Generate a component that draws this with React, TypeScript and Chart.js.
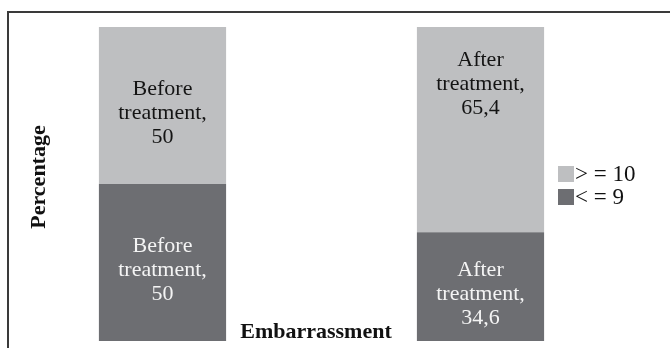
import React, { useEffect, useRef } from "react";
import { Chart, registerables } from "chart.js";

Chart.register(...registerables);

// Data
const categories = ["Before treatment", "After treatment"];
const seriesNames = ["< = 9", "> = 10"];
const lowScores = [50, 34.6];
const highScores = [50, 65.4];
const xAxisTitle = "Embarrassment";
const yAxisTitle = "Percentage";

const SERIF = '"Liberation Serif", "Times New Roman", serif';
const LIGHT = "#bebfc1";
const DARK = "#6d6e72";

const formatValue = (v: number) => String(v).replace(".", ",");

// "Before treatment" + 50 -> ["Before", "treatment,", "50"]
function labelLines(category: string, v: number): string[] {
  const words = category.split(" ");
  return [...words.slice(0, -1), words[words.length - 1] + ",", formatValue(v)];
}

const annotatePlugin = {
  id: "annotate",
  afterDatasetsDraw(chart: any) {
    const ctx: CanvasRenderingContext2D = chart.ctx;
    const area = chart.chartArea;
    ctx.save();

    // value labels inside each stacked segment
    chart.data.datasets.forEach((ds: any, di: number) => {
      const meta = chart.getDatasetMeta(di);
      meta.data.forEach((bar: any, i: number) => {
        const { x, y, base } = bar.getProps(["x", "y", "base"], true);
        const top = Math.min(y, base);
        const bottom = Math.max(y, base);
        const lines = labelLines(chart.data.labels[i], ds.data[i]);
        const lineH = 24;
        const anchor = ds.labelAnchor ? ds.labelAnchor[i] : "center";
        const mid = anchor === "top" ? top + 57 : (top + bottom) / 2 + 8;
        ctx.font = `22px ${SERIF}`;
        ctx.fillStyle = ds.labelColor;
        ctx.textAlign = "center";
        ctx.textBaseline = "middle";
        lines.forEach((ln, k) => ctx.fillText(ln, x, mid + (k - 1) * lineH));
      });
    });

    // axis titles
    ctx.fillStyle = "#111";
    ctx.font = `bold 22px ${SERIF}`;
    ctx.textAlign = "center";
    ctx.textBaseline = "alphabetic";
    ctx.fillText(xAxisTitle, 316, 338);

    ctx.save();
    ctx.translate(45, (area.top + area.bottom) / 2 - 7);
    ctx.rotate(-Math.PI / 2);
    ctx.fillText(yAxisTitle, 0, 0);
    ctx.restore();

    // legend, top series first
    const items = chart.data.datasets.map((d: any) => d).reverse();
    ctx.font = `23px ${SERIF}`;
    ctx.textAlign = "left";
    ctx.textBaseline = "middle";
    items.forEach((d: any, k: number) => {
      const bx = 558;
      const by = 166 + k * 23;
      ctx.fillStyle = d.backgroundColor;
      ctx.fillRect(bx, by, 16, 16);
      ctx.fillStyle = "#111";
      ctx.fillText(d.label, bx + 17, by + 9);
    });

    ctx.restore();
  },
};

export default function App() {
  const canvasRef = useRef<HTMLCanvasElement | null>(null);

  useEffect(() => {
    const canvas = canvasRef.current;
    if (!canvas) return;
    const chart = new Chart(canvas, {
      type: "bar",
      data: {
        labels: categories,
        datasets: [
          {
            label: seriesNames[0],
            data: lowScores,
            backgroundColor: DARK,
            labelColor: "#f4f4f4",
            labelAnchor: ["center", "center"],
          } as any,
          {
            label: seriesNames[1],
            data: highScores,
            backgroundColor: LIGHT,
            labelColor: "#141414",
            labelAnchor: ["center", "top"],
          } as any,
        ],
      },
      options: {
        responsive: false,
        animation: false,
        devicePixelRatio: 1,
        layout: { padding: { left: 3.5, right: 30.5, top: 27, bottom: 7 } },
        datasets: {
          bar: { categoryPercentage: 1, barPercentage: 0.4, borderWidth: 0 },
        },
        scales: {
          x: { stacked: true, display: false },
          y: { stacked: true, display: false, min: 0, max: 100 },
        },
        plugins: {
          legend: { display: false },
          tooltip: { enabled: false },
        },
      },
      plugins: [annotatePlugin],
    });
    return () => chart.destroy();
  }, []);

  return (
    <div
      style={{
        position: "fixed",
        left: 0,
        top: 0,
        width: 670,
        height: 348,
        overflow: "hidden",
        background: "#fff",
      }}
    >
      <canvas ref={canvasRef} width={670} height={348} style={{ display: "block" }} />
      <div
        style={{
          position: "absolute",
          left: 7,
          top: 11,
          width: 700,
          height: 400,
          borderTop: "2px solid #3a3a3a",
          borderLeft: "2px solid #3a3a3a",
          pointerEvents: "none",
        }}
      />
    </div>
  );
}
